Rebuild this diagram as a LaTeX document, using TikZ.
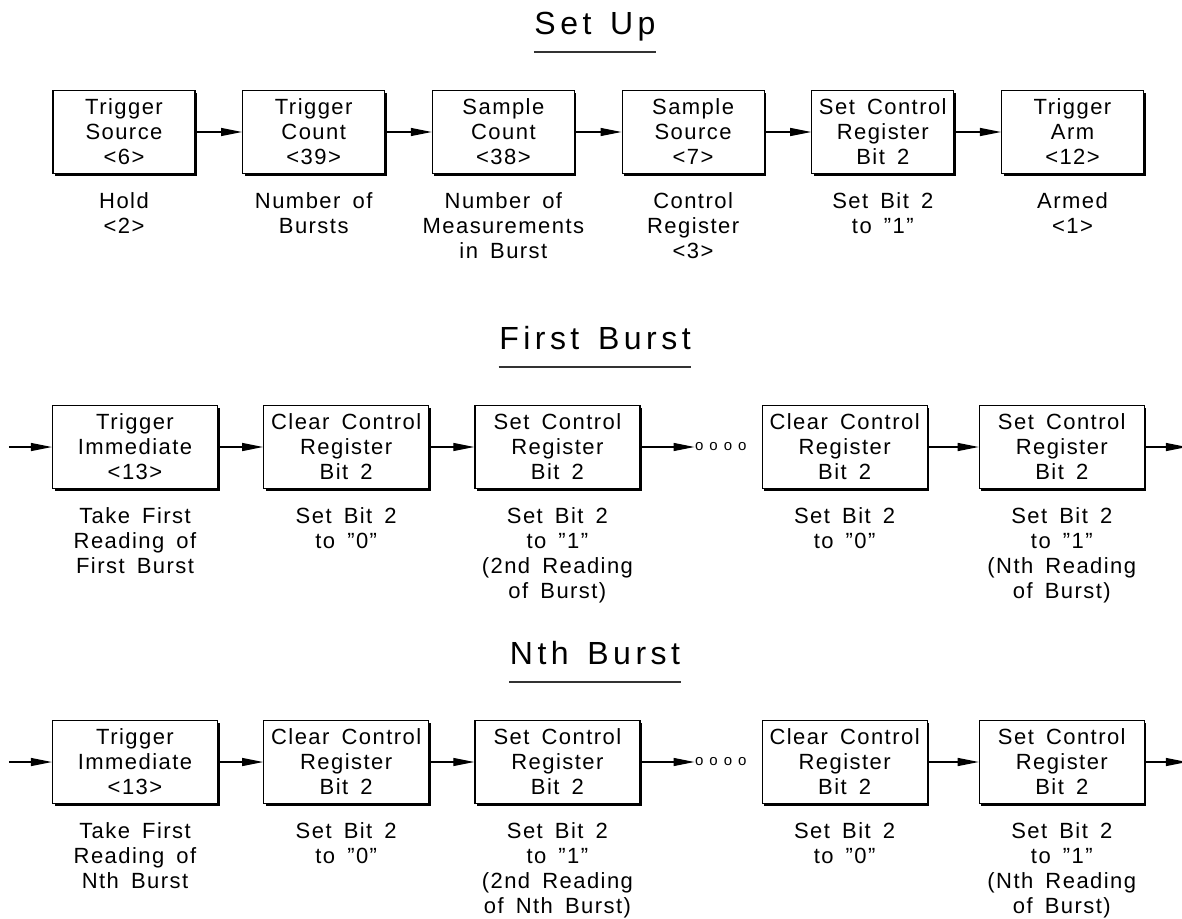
\documentclass[tikz,border=0pt]{standalone}
\usepackage{fontspec}
\setmainfont[LetterSpace=6.6, WordSpace=1.6]{Liberation Sans}
\newfontfamily\headingfamily[LetterSpace=14, WordSpace=1.4]{Liberation Sans}
\usetikzlibrary{positioning,arrows.meta,shadows}
\newcommand{\blockfont}{\fontsize{22}{25}\selectfont}
\newcommand{\headingfont}{\headingfamily\fontsize{32}{34}\selectfont}
\newcommand{\dotsfont}{\fontsize{15}{15}\selectfont\spaceskip=6pt\relax}

\begin{document}
\begin{tikzpicture}[x=1pt, y=-1pt, >={Triangle[length=21pt,width=8pt]}, line width=1.2pt]
    \tikzset{
        block/.style={draw, fill=white, rectangle, minimum height=83pt, minimum width=142pt, inner sep=0pt, align=center, font=\blockfont, drop shadow={shadow xshift=2pt, shadow yshift=-2pt, fill=black, opacity=1}},
        wideblock/.style={block, minimum width=165pt},
        note/.style={inner sep=0pt, align=center, font=\blockfont},
        heading/.style={inner sep=0pt, font=\headingfont, text height=23pt, text depth=0pt, anchor=south},
        dots/.style={inner sep=0pt, font=\dotsfont},
        rule/.style={draw, line width=2.5pt, black!80},
        line/.style={draw, ->, line width=1.2pt}
    }
    \useasboundingbox (0,0) rectangle (1182,918);

    % Set Up
    \node[heading] (setup) at (595,35) {Set Up};
    \draw[rule] ([yshift=-17pt]setup.south west) -- ([yshift=-17pt]setup.south east);
    \node[block] (tsrc) at (124,132) {Trigger\\Source\\<6>};
    \node[block, right=46.5pt of tsrc] (tcnt) {Trigger\\Count\\<39>};
    \node[block, right=46.5pt of tcnt] (scnt) {Sample\\Count\\<38>};
    \node[block, right=46.5pt of scnt] (ssrc) {Sample\\Source\\<7>};
    \node[block, right=46.5pt of ssrc] (sset) {Set Control\\Register\\Bit 2};
    \node[block, right=46.5pt of sset] (tarm) {Trigger\\Arm\\<12>};
    \node[note, below=18pt of tsrc] (tsrcnote) {Hold\\<2>};
    \node[note, below=18pt of tcnt] (tcntnote) {Number of\\Bursts};
    \node[note, below=18pt of scnt] (scntnote) {Number of\\Measurements\\in Burst};
    \node[note, below=18pt of ssrc] (ssrcnote) {Control\\Register\\<3>};
    \node[note, below=18pt of sset] (ssetnote) {Set Bit 2\\to "1"};
    \node[note, below=18pt of tarm] (tarmnote) {Armed\\<1>};
    \path[line] (tsrc) -- (tcnt);
    \path[line] (tcnt) -- (scnt);
    \path[line] (scnt) -- (ssrc);
    \path[line] (ssrc) -- (sset);
    \path[line] (sset) -- (tarm);

    % First Burst
    \node[heading] (first) at (595,350) {First Burst};
    \draw[rule] ([yshift=-17pt]first.south west) -- ([yshift=-17pt]first.south east);
    \node[wideblock] (fimm) at (135,447) {Trigger\\Immediate\\<13>};
    \node[wideblock, right=45pt of fimm] (fclr) {Clear Control\\Register\\Bit 2};
    \node[wideblock, right=45pt of fclr] (fset) {Set Control\\Register\\Bit 2};
    \node[dots, right=54pt of fset] (fdots) {o o o o};
    \node[wideblock, right=121pt of fset] (fclrn) {Clear Control\\Register\\Bit 2};
    \node[wideblock, right=51pt of fclrn] (fsetn) {Set Control\\Register\\Bit 2};
    \coordinate[left=43pt of fimm] (fin);
    \coordinate[right=42pt of fsetn] (fout);
    \node[note, below=18pt of fimm] (fimmnote) {Take First\\Reading of\\First Burst};
    \node[note, below=18pt of fclr] (fclrnote) {Set Bit 2\\to "0"};
    \node[note, below=18pt of fset] (fsetnote) {Set Bit 2\\to "1"\\(2nd Reading\\of Burst)};
    \node[note, below=18pt of fclrn] (fclrnnote) {Set Bit 2\\to "0"};
    \node[note, below=18pt of fsetn] (fsetnnote) {Set Bit 2\\to "1"\\(Nth Reading\\of Burst)};
    \path[line] (fin) -- (fimm);
    \path[line] (fimm) -- (fclr);
    \path[line] (fclr) -- (fset);
    \path[line] (fset) -- (fdots);
    \path[line] (fclrn) -- (fsetn);
    \path[line] (fsetn) -- (fout);

    % Nth Burst
    \node[heading] (nth) at (595,665) {Nth Burst};
    \draw[rule] ([yshift=-17pt]nth.south west) -- ([yshift=-17pt]nth.south east);
    \node[wideblock] (nimm) at (135,762) {Trigger\\Immediate\\<13>};
    \node[wideblock, right=45pt of nimm] (nclr) {Clear Control\\Register\\Bit 2};
    \node[wideblock, right=45pt of nclr] (nset) {Set Control\\Register\\Bit 2};
    \node[dots, right=54pt of nset] (ndots) {o o o o};
    \node[wideblock, right=121pt of nset] (nclrn) {Clear Control\\Register\\Bit 2};
    \node[wideblock, right=51pt of nclrn] (nsetn) {Set Control\\Register\\Bit 2};
    \coordinate[left=43pt of nimm] (nin);
    \coordinate[right=42pt of nsetn] (nout);
    \node[note, below=18pt of nimm] (nimmnote) {Take First\\Reading of\\Nth Burst};
    \node[note, below=18pt of nclr] (nclrnote) {Set Bit 2\\to "0"};
    \node[note, below=18pt of nset] (nsetnote) {Set Bit 2\\to "1"\\(2nd Reading\\of Nth Burst)};
    \node[note, below=18pt of nclrn] (nclrnnote) {Set Bit 2\\to "0"};
    \node[note, below=18pt of nsetn] (nsetnnote) {Set Bit 2\\to "1"\\(Nth Reading\\of Burst)};
    \path[line] (nin) -- (nimm);
    \path[line] (nimm) -- (nclr);
    \path[line] (nclr) -- (nset);
    \path[line] (nset) -- (ndots);
    \path[line] (nclrn) -- (nsetn);
    \path[line] (nsetn) -- (nout);
\end{tikzpicture}
\end{document}
